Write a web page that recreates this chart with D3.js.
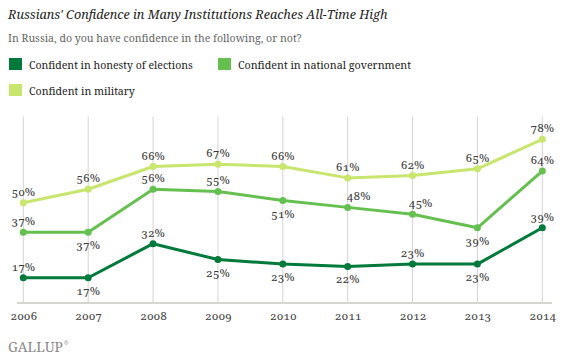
<!DOCTYPE html>
<html>
<head>
<meta charset="utf-8">
<title>Russians' Confidence</title>
<script src="https://cdn.jsdelivr.net/npm/d3@7"></script>
</head>
<body style="margin:0; background:#fff">
<script>
// data
var years = [2006, 2007, 2008, 2009, 2010, 2011, 2012, 2013, 2014];
var elections = [17, 17, 32, 25, 23, 22, 23, 23, 39];
var government = [37, 37, 56, 55, 51, 48, 45, 39, 64];
var military = [50, 56, 66, 67, 66, 61, 62, 65, 78];
var seriesNames = ["Confident in honesty of elections", "Confident in national government", "Confident in military"];
// label placement: above (1) / below (0)
var electionsPos = [1, 0, 1, 0, 0, 0, 1, 0, 1];
var governmentPos = [1, 0, 1, 1, 0, 1, 1, 0, 1];
var militaryPos = [1, 1, 1, 1, 1, 1, 1, 1, 1];
// a couple of labels sit a bit to the right
var governmentDx = [0, 0, 0, 0, 0, 11, 8, 0, 0];

var colors = ["#007a3a", "#66c050", "#c8e56d"];
var FONT = "'Noto Serif', 'DejaVu Serif', serif";

var W = 564, H = 364;
var svg = d3.select("body").append("svg").attr("width", W).attr("height", H)
  .style("font-family", FONT);

// shrink/grow font so a text spans a given width
function fit(sel, width) {
  var fs = parseFloat(sel.style("font-size"));
  var len = sel.node().getComputedTextLength();
  sel.style("font-size", (fs * width / len).toFixed(2) + "px");
}

var title = svg.append("text").attr("x", 8).attr("y", 19)
  .style("font-size", "13px").style("font-style", "italic").attr("fill", "#222")
  .text("Russians' Confidence in Many Institutions Reaches All-Time High");
fit(title, 380);
var sub = svg.append("text").attr("x", 8).attr("y", 42)
  .style("font-size", "12px").attr("fill", "#666")
  .text("In Russia, do you have confidence in the following, or not?");
fit(sub, 294);

// legend
var legendPos = [[9, 58], [218, 58], [9, 84]];
var legendW = [164, 173, 106];
seriesNames.forEach(function (n, i) {
  var g = svg.append("g").attr("transform", "translate(" + legendPos[i][0] + "," + legendPos[i][1] + ")");
  g.append("rect").attr("width", 13).attr("height", 12).attr("fill", colors[i]);
  var t = g.append("text").attr("x", 20).attr("y", 10.5).style("font-size", "12px").attr("fill", "#222").text(n);
  fit(t, legendW[i]);
});

var x = d3.scalePoint().domain(years).range([23.3, 542.3]);
var y = d3.scaleLinear().domain([6, 88]).range([302.7, 116.6]);

// gridlines
svg.append("g").selectAll("line").data(years).enter().append("line")
  .attr("x1", function (d) { return x(d); }).attr("x2", function (d) { return x(d); })
  .attr("y1", y(88)).attr("y2", y(6))
  .attr("stroke", "#d4d4d4").attr("stroke-width", 1);

// axis line
svg.append("line").attr("x1", 17).attr("x2", 552).attr("y1", 303).attr("y2", 303)
  .attr("stroke", "#d6d6d0").attr("stroke-width", 2);

// x axis labels
var xAxis = d3.axisBottom(x).tickSize(0).tickPadding(0);
var ax = svg.append("g").attr("transform", "translate(0,312)").call(xAxis);
ax.attr("font-family", null).attr("font-size", null);
ax.select(".domain").remove();
ax.selectAll(".tick line").remove();
ax.selectAll("text").style("font-size", "11.5px").attr("fill", "#444")
  .style("font-weight", "400").style("stroke", "none")
  .style("font-family", FONT).style("font-variant-numeric", "oldstyle-nums");

var all = [elections, government, military];
var pos = [electionsPos, governmentPos, militaryPos];
var dxs = [null, governmentDx, null];
var line = d3.line().x(function (d, i) { return x(years[i]); }).y(function (d) { return y(d); });

[2, 1, 0].forEach(function (k) {
  var vals = all[k];
  svg.append("path").attr("d", line(vals)).attr("fill", "none")
    .attr("stroke", colors[k]).attr("stroke-width", 3).attr("stroke-linejoin", "round");
  svg.append("g").selectAll("circle").data(vals).enter().append("circle")
    .attr("cx", function (d, i) { return x(years[i]); })
    .attr("cy", function (d) { return y(d); })
    .attr("r", 3.5).attr("fill", colors[k]);
});

[0, 1, 2].forEach(function (k) {
  var vals = all[k];
  svg.append("g").selectAll("text").data(vals).enter().append("text")
    .attr("x", function (d, i) { return x(years[i]) + (dxs[k] ? dxs[k][i] : 0); })
    .attr("y", function (d, i) { return pos[k][i] ? y(d) - 7 : y(d) + 17; })
    .attr("text-anchor", "middle").style("font-size", "11.5px").attr("fill", "#3a3a3a")
    .style("font-variant-numeric", "oldstyle-nums")
    .text(function (d) { return d + "%"; });
});

// logo
var logo = svg.append("text").attr("x", 8).attr("y", 352).style("font-size", "12px")
  .attr("fill", "#888").text("GALLUP");
fit(logo, 55);
svg.append("text").attr("x", 64).attr("y", 345).style("font-size", "5px")
  .attr("fill", "#888").text("®");
</script>
</body>
</html>
